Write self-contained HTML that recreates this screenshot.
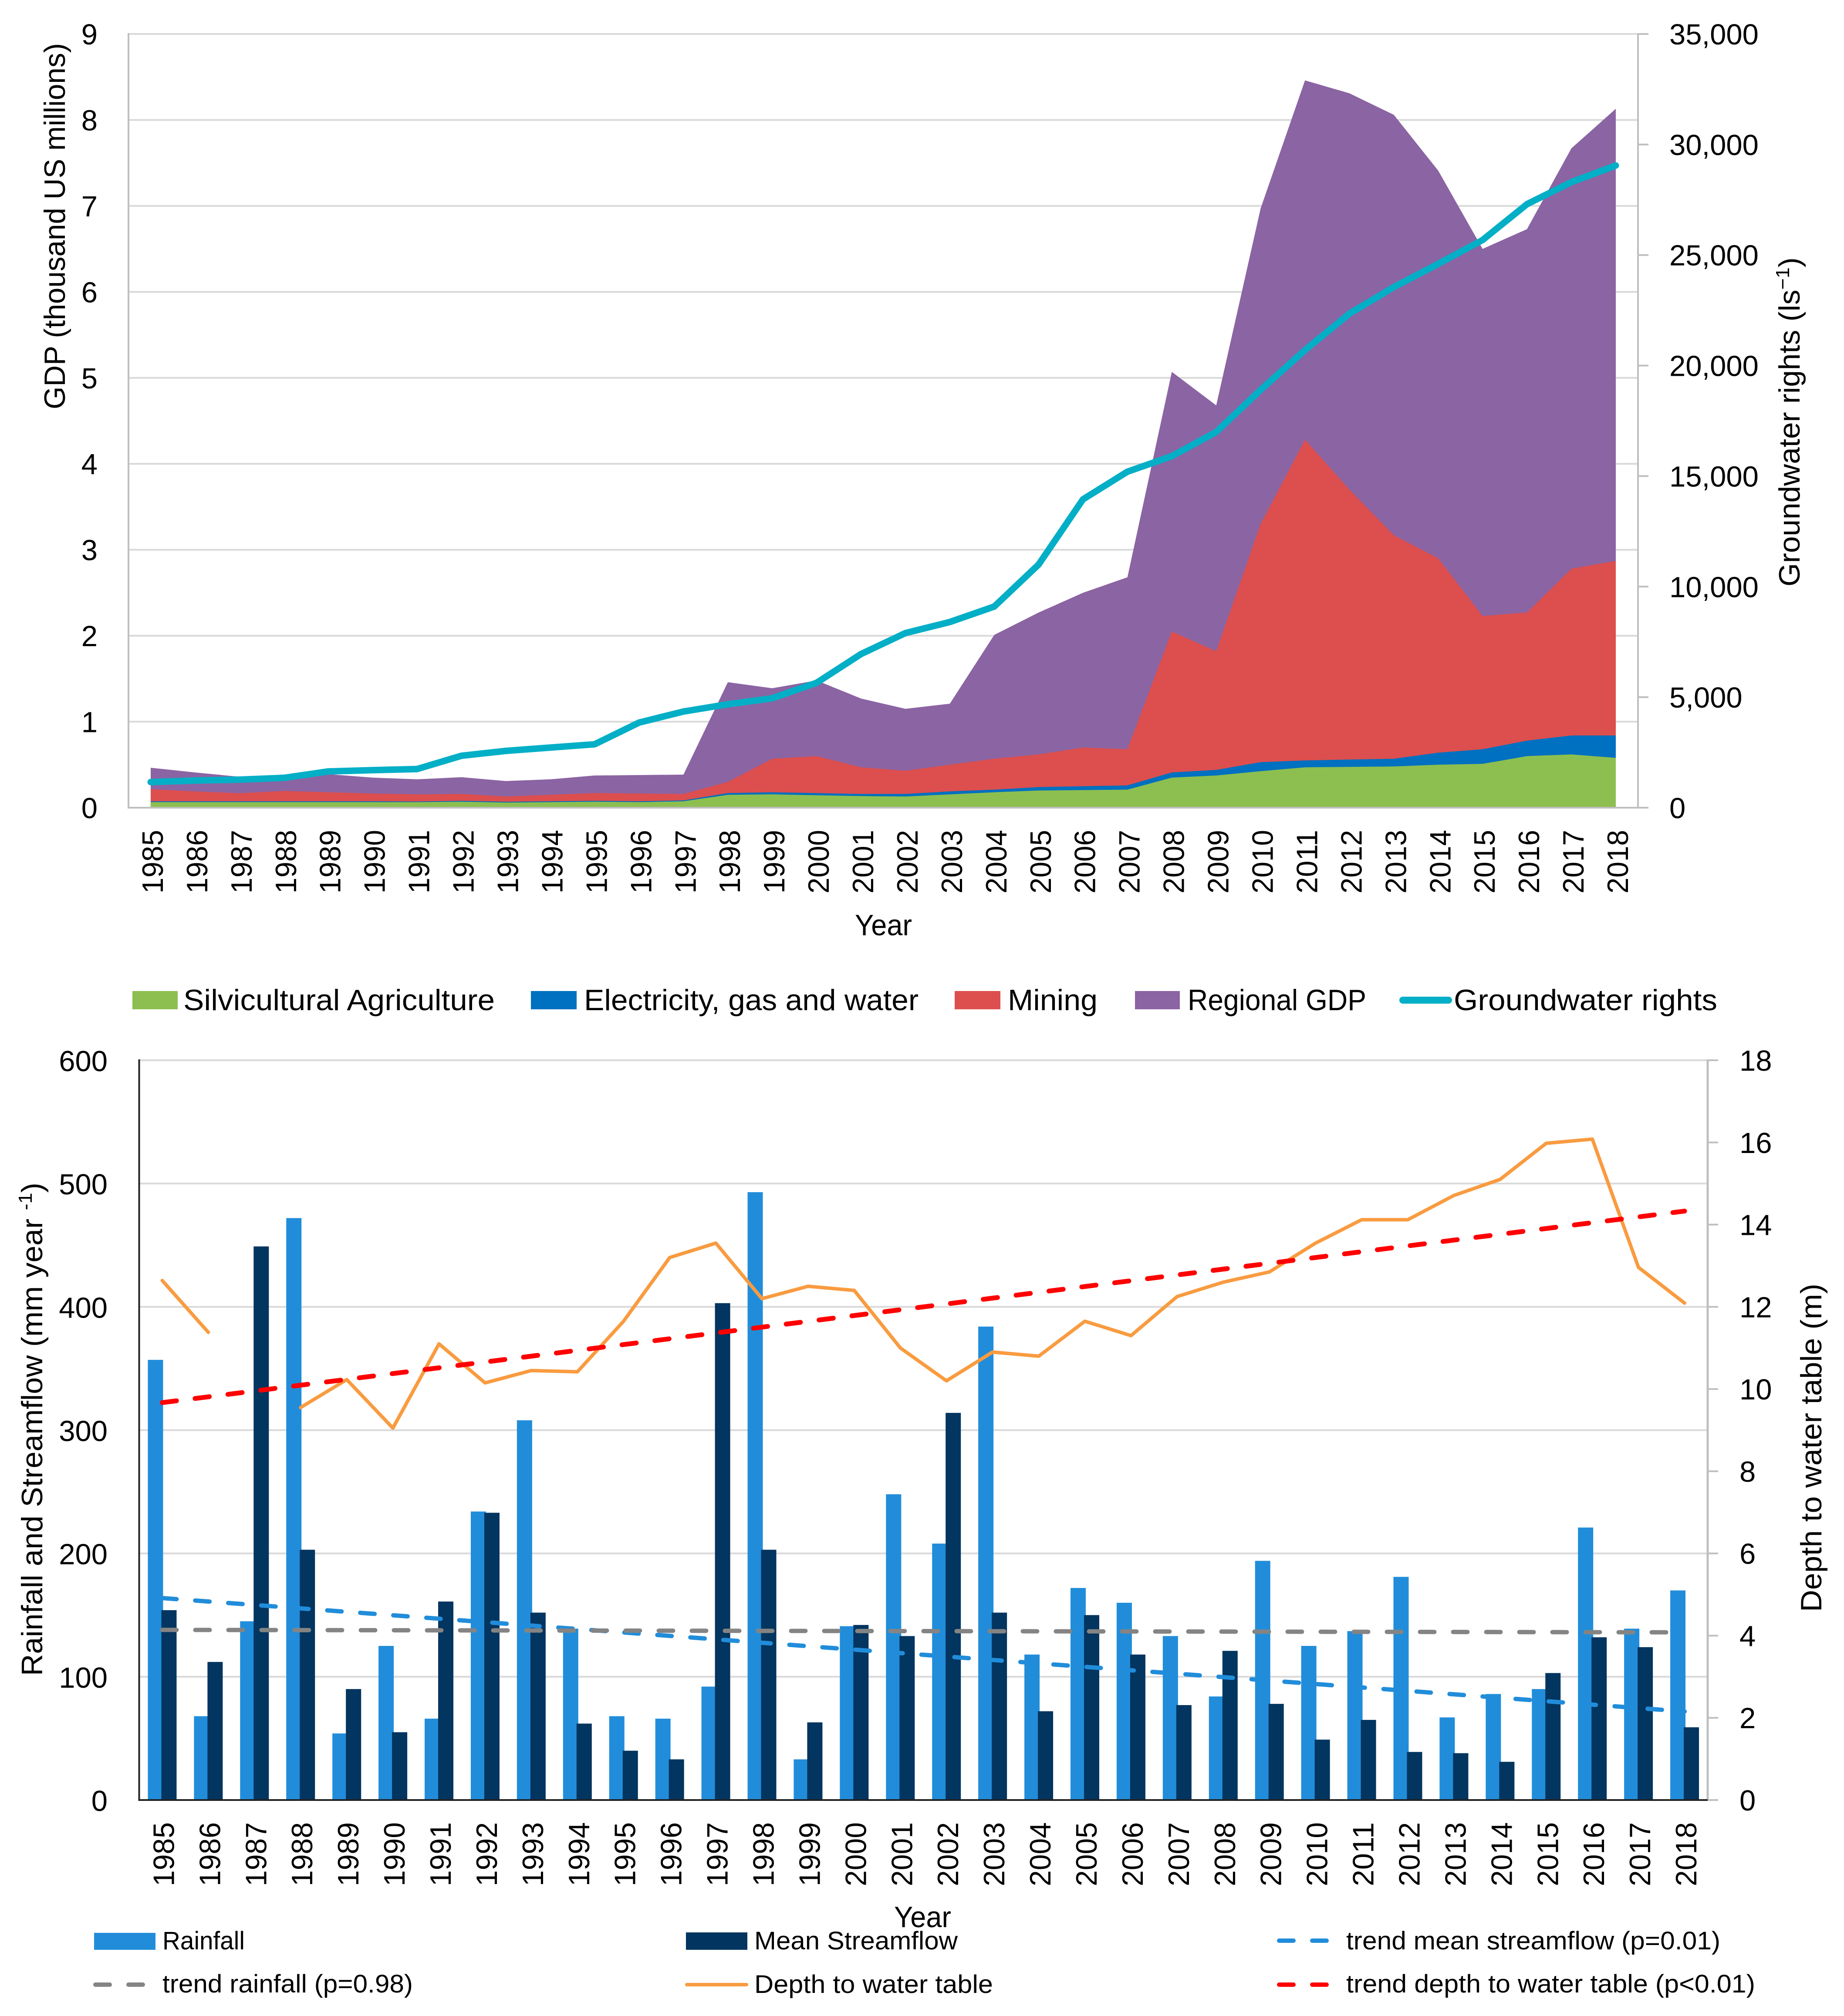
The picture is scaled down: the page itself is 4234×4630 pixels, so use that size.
<!DOCTYPE html>
<html lang="en">
<head>
<meta charset="utf-8">
<title>GDP, groundwater rights, rainfall, streamflow and depth to water table, 1985–2018</title>
<style>
html,body{margin:0;padding:0;background:#fff}
svg{display:block}
text{font-family:"Liberation Sans",sans-serif;fill:#000}
.leg{font-size:68px}
.leg2{font-size:58px}
.tick{font-size:67px}
.title{font-size:68px}
</style>
</head>
<body>
<svg id="figure" xmlns="http://www.w3.org/2000/svg" width="4234" height="4630" viewBox="0 0 4234 4630">
  <rect x="0" y="0" width="4234" height="4630" fill="#fff"/>

  <g id="top-chart"></g>
  <g>
    <text class="title" transform="translate(149,940) rotate(-90)" textLength="841" lengthAdjust="spacingAndGlyphs">GDP (thousand US millions)</text>
    <text class="title" transform="translate(4132,1347) rotate(-90)" textLength="756" lengthAdjust="spacingAndGlyphs">Groundwater rights (ls<tspan font-size="44" dy="-24">−1</tspan><tspan dy="24">)</tspan></text>
    <text class="title" x="1963" y="2148" textLength="131" lengthAdjust="spacingAndGlyphs">Year</text>
  </g>
  <g>
    <g>
      <rect x="304" y="2276" width="104" height="42" fill="#8DBF50"/>
      <text class="leg" x="421" y="2320" textLength="715" lengthAdjust="spacingAndGlyphs">Silvicultural Agriculture</text>
    </g>
    <g>
      <rect x="1219" y="2276" width="105" height="42" fill="#0070C0"/>
      <text class="leg" x="1341" y="2320" textLength="768" lengthAdjust="spacingAndGlyphs">Electricity, gas and water</text>
    </g>
    <g>
      <rect x="2192" y="2276" width="105" height="42" fill="#DC4F4E"/>
      <text class="leg" x="2314" y="2320" textLength="206" lengthAdjust="spacingAndGlyphs">Mining</text>
    </g>
    <g>
      <rect x="2606" y="2276" width="103" height="42" fill="#8B64A3"/>
      <text class="leg" x="2727" y="2320" textLength="410" lengthAdjust="spacingAndGlyphs">Regional GDP</text>
    </g>
    <g>
      <line x1="3221" y1="2297" x2="3326" y2="2297" stroke="#03AFC6" stroke-width="16" stroke-linecap="round"/>
      <text class="leg" x="3338" y="2320" textLength="605" lengthAdjust="spacingAndGlyphs">Groundwater rights</text>
    </g>
  </g>

  <g id="bottom-chart"></g>
  <g>
    <text class="title" transform="translate(97,3849) rotate(-90)" textLength="1133" lengthAdjust="spacingAndGlyphs">Rainfall and Streamflow (mm year <tspan font-size="44" dy="-24">-1</tspan><tspan dy="24">)</tspan></text>
    <text class="title" transform="translate(4182,3702) rotate(-90)" textLength="754" lengthAdjust="spacingAndGlyphs">Depth to water table (m)</text>
    <text class="title" x="2053" y="4426" textLength="131" lengthAdjust="spacingAndGlyphs">Year</text>
  </g>
  <g>
    <g>
      <rect x="216" y="4439" width="141" height="39" fill="#218DDA"/>
      <text class="leg2" x="373" y="4477" textLength="189" lengthAdjust="spacingAndGlyphs">Rainfall</text>
    </g>
    <g>
      <rect x="1575" y="4438" width="141" height="40" fill="#02355F"/>
      <text class="leg2" x="1732" y="4477" textLength="467" lengthAdjust="spacingAndGlyphs">Mean Streamflow</text>
    </g>
    <g>
      <line x1="2937" y1="4457" x2="3051" y2="4457" stroke="#218DDA" stroke-width="10" stroke-linecap="round" stroke-dasharray="33 43"/>
      <text class="leg2" x="3091" y="4477" textLength="859" lengthAdjust="spacingAndGlyphs">trend mean streamflow (p=0.01)</text>
    </g>
    <g>
      <line x1="219" y1="4558" x2="332" y2="4558" stroke="#848484" stroke-width="10" stroke-linecap="round" stroke-dasharray="33 43"/>
      <text class="leg2" x="373" y="4576" textLength="575" lengthAdjust="spacingAndGlyphs">trend rainfall (p=0.98)</text>
    </g>
    <g>
      <line x1="1577" y1="4558" x2="1714" y2="4558" stroke="#F99B40" stroke-width="8" stroke-linecap="round"/>
      <text class="leg2" x="1732" y="4577" textLength="548" lengthAdjust="spacingAndGlyphs">Depth to water table</text>
    </g>
    <g>
      <line x1="2937" y1="4558" x2="3051" y2="4558" stroke="#FF0000" stroke-width="10" stroke-linecap="round" stroke-dasharray="33 43"/>
      <text class="leg2" x="3091" y="4576" textLength="939" lengthAdjust="spacingAndGlyphs">trend depth to water table (p&lt;0.01)</text>
    </g>
  </g>
</svg>

<script>
const years = [1985,1986,1987,1988,1989,1990,1991,1992,1993,1994,1995,1996,1997,1998,1999,2000,2001,2002,2003,2004,2005,2006,2007,2008,2009,2010,2011,2012,2013,2014,2015,2016,2017,2018];

// Top chart values (thousand US millions; groundwater rights in l/s)
const regionalGdp = [0.465,0.41,0.36,0.385,0.39,0.35,0.33,0.355,0.31,0.33,0.375,0.38,0.385,1.46,1.39,1.48,1.27,1.15,1.21,2.01,2.27,2.5,2.68,5.07,4.68,6.97,8.46,8.31,8.06,7.41,6.5,6.73,7.67,8.13];
const mining = [0.215,0.19,0.168,0.195,0.18,0.165,0.155,0.16,0.13,0.15,0.17,0.165,0.16,0.3,0.57,0.6,0.47,0.43,0.5,0.57,0.62,0.7,0.68,2.05,1.82,3.3,4.28,3.7,3.17,2.9,2.23,2.27,2.78,2.87];
const electricity = [0.075,0.075,0.075,0.075,0.075,0.075,0.072,0.08,0.07,0.075,0.08,0.075,0.085,0.17,0.18,0.17,0.16,0.16,0.19,0.21,0.24,0.25,0.26,0.41,0.44,0.53,0.55,0.56,0.57,0.64,0.68,0.78,0.84,0.84];
const agriculture = [0.065,0.065,0.065,0.065,0.065,0.065,0.065,0.07,0.06,0.065,0.07,0.065,0.075,0.15,0.155,0.145,0.135,0.13,0.155,0.18,0.2,0.205,0.21,0.35,0.375,0.425,0.47,0.475,0.48,0.5,0.51,0.6,0.62,0.58];
const groundwaterRights = [1160,1230,1270,1350,1640,1700,1750,2350,2570,2720,2870,3850,4350,4680,4950,5650,6950,7900,8400,9100,11000,13950,15200,15900,17000,18900,20700,22350,23550,24600,25680,27300,28300,29050];
const gdpTicks = [0,1,2,3,4,5,6,7,8,9];
const rightsTicks = [0,5000,10000,15000,20000,25000,30000,35000];
const rightsTickLabels = ["0","5,000","10,000","15,000","20,000","25,000","30,000","35,000"];

// Bottom chart values (mm/year; depth in m)
const rainfall = [357,68,145,472,54,125,66,234,308,139,68,66,92,493,33,141,248,208,384,118,172,160,133,84,194,125,137,181,67,86,90,221,139,170];
const streamflow = [154,112,449,203,90,55,161,233,152,62,40,33,403,203,63,142,133,314,152,72,150,118,77,121,78,49,65,39,38,31,103,132,124,59];
const depthToWater = [12.64,11.38,null,9.55,10.23,9.05,11.1,10.15,10.45,10.42,11.65,13.2,13.55,12.2,12.5,12.4,11.0,10.2,10.9,10.8,11.65,11.3,12.25,12.6,12.85,13.55,14.12,14.12,14.71,15.1,15.98,16.08,12.96,12.09];
const trendRainfall = [138,136];
const trendStreamflow = [163.8,71.8];
const trendDepth = [9.67,14.33];
const flowTicks = [0,100,200,300,400,500,600];
const depthTicks = [0,2,4,6,8,10,12,14,16,18];

const NS = "http://www.w3.org/2000/svg";
const topG = document.getElementById("top-chart");
const botG = document.getElementById("bottom-chart");

function make(tag, parent, attrs, content) {
  const el = document.createElementNS(NS, tag);
  for (const k in attrs) el.setAttribute(k, attrs[k]);
  if (content !== undefined) el.textContent = content;
  parent.appendChild(el);
  return el;
}

// Top chart axis functions
const T = { left: 295, right: 3761, y0: 1855, yMax: 78 };
const xTop = i => T.left + (i + 0.5) * (T.right - T.left) / years.length;
const yGdp = v => T.y0 - v / 9 * (T.y0 - T.yMax);
const yRights = v => T.y0 - v / 35000 * (T.y0 - T.yMax);

// Bottom chart axis functions
const B = { left: 319.5, right: 3921, y0: 4134, yMax: 2435 };
const xBot = i => B.left + (i + 0.5) * (B.right - B.left) / years.length;
const yFlow = v => B.y0 - v / 600 * (B.y0 - B.yMax);
const yDepth = v => B.y0 - v / 18 * (B.y0 - B.yMax);

function areaPath(values) {
  let d = "M" + xTop(0) + " " + T.y0;
  values.forEach((v, i) => { d += "L" + xTop(i).toFixed(1) + " " + yGdp(v).toFixed(1); });
  return d + "L" + xTop(values.length - 1) + " " + T.y0 + "Z";
}

function linePath(values, xf, yf) {
  let d = "", pen = false;
  values.forEach((v, i) => {
    if (v === null) { pen = false; return; }
    d += (pen ? "L" : "M") + xf(i).toFixed(1) + " " + yf(v).toFixed(1);
    pen = true;
  });
  return d;
}

// ---------- Top chart ----------
gdpTicks.forEach(t => {
  if (t > 0) {
    const grid = make("line", topG, { x1: T.left, x2: T.right, y1: yGdp(t), y2: yGdp(t), stroke: "#D9D9D9", "stroke-width": 4 });
    
    
  }
  const lab = make("text", topG, { class: "tick", x: 224, y: yGdp(t) + 24, "text-anchor": "end" }, String(t));
  
  
});

const areaSeries = [
  [regionalGdp, "#8B64A3", "area-regional-gdp"],
  [mining, "#DC4F4E", "area-mining"],
  [electricity, "#0070C0", "area-electricity"],
  [agriculture, "#8DBF50", "area-agriculture"]
];
areaSeries.forEach(s => {
  const area = make("path", topG, { d: areaPath(s[0]), fill: s[1] });
  
  
});

const topLeftAxis = make("line", topG, { x1: T.left, x2: T.left, y1: T.yMax - 2, y2: T.y0 + 2, stroke: "#BFBFBF", "stroke-width": 4 });


const topBottomAxis = make("line", topG, { x1: T.left, x2: T.right, y1: T.y0, y2: T.y0, stroke: "#BFBFBF", "stroke-width": 4 });


const topRightAxis = make("line", topG, { x1: T.right, x2: T.right, y1: T.yMax - 2, y2: T.y0 + 2, stroke: "#BFBFBF", "stroke-width": 4 });



rightsTicks.forEach((t, i) => {
  const tick = make("line", topG, { x1: T.right, x2: T.right + 24, y1: yRights(t), y2: yRights(t), stroke: "#BFBFBF", "stroke-width": 4 });
  
  
  const lab = make("text", topG, { class: "tick", x: 3833, y: yRights(t) + 24 }, rightsTickLabels[i]);
  
  
});

const rightsLine = make("path", topG, { d: linePath(groundwaterRights, xTop, yRights), fill: "none", stroke: "#03AFC6", "stroke-width": 15, "stroke-linecap": "round", "stroke-linejoin": "round" });



years.forEach((yr, i) => {
  const lab = make("text", topG, { class: "title", transform: "translate(" + (xTop(i) + 28) + ",2052) rotate(-90)", textLength: 146, lengthAdjust: "spacingAndGlyphs" }, String(yr));
  
  
});

// ---------- Bottom chart ----------
flowTicks.forEach(t => {
  if (t > 0) {
    const grid = make("line", botG, { x1: B.left, x2: B.right, y1: yFlow(t), y2: yFlow(t), stroke: "#D9D9D9", "stroke-width": 4 });
    
    
  }
  const lab = make("text", botG, { class: "tick", x: 247, y: yFlow(t) + 25, "text-anchor": "end" }, String(t));
  
  
});

years.forEach((yr, i) => {
  const r = make("rect", botG, { x: xBot(i) - 33, y: yFlow(rainfall[i]), width: 35, height: B.y0 - yFlow(rainfall[i]), fill: "#218DDA" });
  
  
});
years.forEach((yr, i) => {
  const s = make("rect", botG, { x: xBot(i) - 2, y: yFlow(streamflow[i]), width: 35, height: B.y0 - yFlow(streamflow[i]), fill: "#02355F" });
  
  
});

const botRightAxis = make("line", botG, { x1: B.right, x2: B.right, y1: B.yMax - 2, y2: B.y0 + 2, stroke: "#BFBFBF", "stroke-width": 5 });


const botLeftAxis = make("line", botG, { x1: B.left, x2: B.left, y1: B.yMax - 2, y2: B.y0 + 2, stroke: "#222", "stroke-width": 4 });



depthTicks.forEach(t => {
  const tick = make("line", botG, { x1: B.right, x2: B.right + 24, y1: yDepth(t), y2: yDepth(t), stroke: "#BFBFBF", "stroke-width": 4 });
  
  
  const lab = make("text", botG, { class: "tick", x: 3994, y: yDepth(t) + 24 }, String(t));
  
  
});

const botBottomAxis = make("line", botG, { x1: B.left, x2: B.right, y1: B.y0, y2: B.y0, stroke: "#222", "stroke-width": 4 });



const depthLine = make("path", botG, { d: linePath(depthToWater, xBot, yDepth), fill: "none", stroke: "#F99B40", "stroke-width": 8, "stroke-linecap": "round", "stroke-linejoin": "round" });



const lastIdx = years.length - 1;
const trendA = make("line", botG, { x1: xBot(0), x2: xBot(lastIdx), y1: yFlow(trendStreamflow[0]), y2: yFlow(trendStreamflow[1]), stroke: "#218DDA", "stroke-width": 10, "stroke-linecap": "round", "stroke-dasharray": "33 43" });


const trendB = make("line", botG, { x1: xBot(0), x2: xBot(lastIdx), y1: yFlow(trendRainfall[0]), y2: yFlow(trendRainfall[1]), stroke: "#848484", "stroke-width": 10, "stroke-linecap": "round", "stroke-dasharray": "33 43" });


const trendC = make("line", botG, { x1: xBot(0), x2: xBot(lastIdx), y1: yDepth(trendDepth[0]), y2: yDepth(trendDepth[1]), stroke: "#FF0000", "stroke-width": 11, "stroke-linecap": "round", "stroke-dasharray": "33 43" });



years.forEach((yr, i) => {
  const lab = make("text", botG, { class: "title", transform: "translate(" + (xBot(i) + 27) + ",4332) rotate(-90)", textLength: 147, lengthAdjust: "spacingAndGlyphs" }, String(yr));
  
  
});
</script>
</body>
</html>
